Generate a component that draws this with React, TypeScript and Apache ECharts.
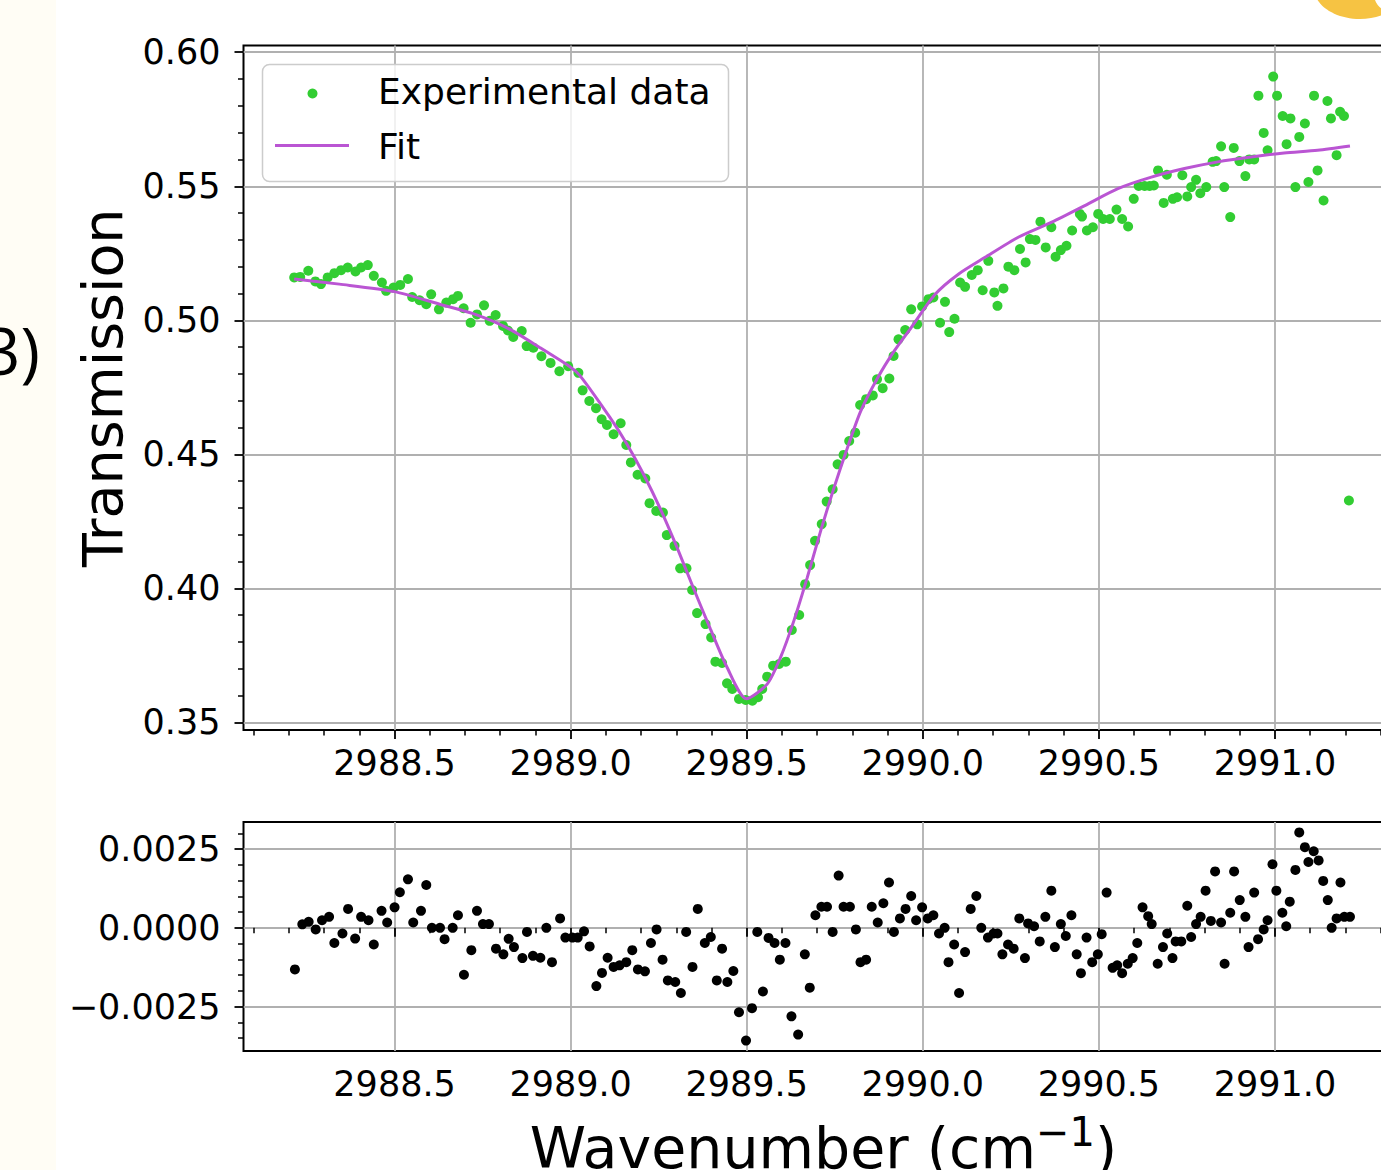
import React, { useEffect, useRef } from "react";
import * as echarts from "echarts";

// ---- axis ticks / labels ----
const xMajorTicks = [2988.5, 2989.0, 2989.5, 2990.0, 2990.5, 2991.0];
const xTickLabels = ["2988.5", "2989.0", "2989.5", "2990.0", "2990.5", "2991.0"];
const xMinorTicks = [2988.1, 2988.2, 2988.3, 2988.4, 2988.6, 2988.7, 2988.8, 2988.9, 2989.1, 2989.2, 2989.3, 2989.4, 2989.6, 2989.7, 2989.8, 2989.9, 2990.1, 2990.2, 2990.3, 2990.4, 2990.6, 2990.7, 2990.8, 2990.9, 2991.1, 2991.2, 2991.3];
const topYTicks = [0.35, 0.4, 0.45, 0.5, 0.55, 0.6];
const topYTickLabels = ["0.35", "0.40", "0.45", "0.50", "0.55", "0.60"];
const topYMinorTicks = [0.36, 0.37, 0.38, 0.39, 0.41, 0.42, 0.43, 0.44, 0.46, 0.47, 0.48, 0.49, 0.51, 0.52, 0.53, 0.54, 0.56, 0.57, 0.58, 0.59];
const resYTicks = [-0.0025, 0, 0.0025];
const resYTickLabels = ["\u22120.0025", "0.0000", "0.0025"];
const resYMinorTicks = [-0.0035, -0.003, -0.002, -0.0015, -0.001, -0.0005, 0.0005, 0.001, 0.0015, 0.002, 0.003];

const X_MIN = 2988.071;
const X_MAX = 2991.365;
const TOP_Y_MIN = 0.3472;
const TOP_Y_MAX = 0.6025;
const RES_Y_MIN = -0.00391;
const RES_Y_MAX = 0.00336;

// ---- experimental transmission data ----
const transX = [
  2988.215, 2988.232, 2988.255, 2988.275, 2988.291, 2988.31, 2988.329, 2988.348, 2988.367, 2988.389,
  2988.405, 2988.424, 2988.441, 2988.464, 2988.476, 2988.497, 2988.516, 2988.538, 2988.55, 2988.571,
  2988.59, 2988.604, 2988.626, 2988.647, 2988.666, 2988.68, 2988.696, 2988.716, 2988.734, 2988.754,
  2988.77, 2988.787, 2988.808, 2988.822, 2988.837, 2988.861, 2988.875, 2988.894, 2988.917, 2988.943,
  2988.968, 2988.993, 2989.022, 2989.034, 2989.053, 2989.072, 2989.088, 2989.103, 2989.122, 2989.142,
  2989.158, 2989.171, 2989.19, 2989.212, 2989.224, 2989.243, 2989.262, 2989.273, 2989.295, 2989.311,
  2989.329, 2989.345, 2989.359, 2989.383, 2989.399, 2989.411, 2989.43, 2989.444, 2989.459, 2989.478,
  2989.497, 2989.516, 2989.532, 2989.544, 2989.558, 2989.575, 2989.592, 2989.611, 2989.628, 2989.649,
  2989.666, 2989.68, 2989.694, 2989.713, 2989.727, 2989.744, 2989.758, 2989.775, 2989.791, 2989.808,
  2989.822, 2989.839, 2989.858, 2989.87, 2989.886, 2989.905, 2989.917, 2989.931, 2989.95, 2989.967,
  2989.984, 2989.998, 2990.016, 2990.03, 2990.049, 2990.063, 2990.075, 2990.09, 2990.106, 2990.12,
  2990.139, 2990.156, 2990.17, 2990.186, 2990.203, 2990.212, 2990.229, 2990.243, 2990.26, 2990.276,
  2990.292, 2990.304, 2990.32, 2990.334, 2990.349, 2990.365, 2990.377, 2990.392, 2990.408, 2990.424,
  2990.446, 2990.452, 2990.466, 2990.483, 2990.498, 2990.512, 2990.531, 2990.55, 2990.566, 2990.583,
  2990.599, 2990.613, 2990.63, 2990.644, 2990.656, 2990.668, 2990.684, 2990.693, 2990.71, 2990.722,
  2990.737, 2990.751, 2990.762, 2990.776, 2990.788, 2990.805, 2990.823, 2990.833, 2990.847, 2990.856,
  2990.873, 2990.883, 2990.899, 2990.916, 2990.927, 2990.941, 2990.953, 2990.968, 2990.979, 2990.995,
  2991.006, 2991.022, 2991.033, 2991.044, 2991.058, 2991.069, 2991.085, 2991.095, 2991.111, 2991.121,
  2991.138, 2991.149, 2991.159, 2991.175, 2991.185, 2991.196, 2991.21,
];
const transY = [
  0.516, 0.5162, 0.5185, 0.5145, 0.5135, 0.516, 0.5176, 0.5187, 0.5197, 0.5182,
  0.5197, 0.5206, 0.5166, 0.5141, 0.511, 0.5122, 0.5132, 0.5154, 0.5087, 0.5075,
  0.506, 0.5097, 0.5041, 0.5066, 0.5079, 0.5091, 0.5045, 0.4991, 0.5022, 0.5056,
  0.4998, 0.502, 0.4979, 0.4962, 0.4938, 0.496, 0.4904, 0.4898, 0.4866, 0.4841,
  0.481, 0.4829, 0.4804, 0.4739, 0.4699, 0.4672, 0.4631, 0.461, 0.4575, 0.4616,
  0.4535, 0.447, 0.4424, 0.441, 0.4318, 0.4289, 0.4283, 0.4199, 0.4159, 0.4075,
  0.4075, 0.3994, 0.3908, 0.3867, 0.3817, 0.3727, 0.3722, 0.3646, 0.3625, 0.3588,
  0.3584, 0.3581, 0.3594, 0.3625, 0.3671, 0.3712, 0.3718, 0.3727, 0.3845, 0.3901,
  0.4016, 0.4087, 0.4178, 0.424, 0.4324, 0.437, 0.4463, 0.4498, 0.455, 0.4581,
  0.4684, 0.4706, 0.472, 0.478, 0.4747, 0.4783, 0.4867, 0.4929, 0.4964, 0.5041,
  0.4985, 0.5052, 0.5079, 0.5085, 0.4991, 0.5069, 0.4956, 0.5006, 0.5141, 0.5125,
  0.5169, 0.5187, 0.5112, 0.5222, 0.5104, 0.5054, 0.5119, 0.52, 0.5187, 0.5266,
  0.5216, 0.5303, 0.53, 0.5368, 0.5272, 0.5347, 0.5237, 0.5262, 0.5278, 0.5335,
  0.5397, 0.5387, 0.5335, 0.5347, 0.5397, 0.5378, 0.5378, 0.5413, 0.5378, 0.535,
  0.5453, 0.5501, 0.5501, 0.5501, 0.5503, 0.5559, 0.5438, 0.5543, 0.5453, 0.5459,
  0.5541, 0.5462, 0.5497, 0.5524, 0.5474, 0.5497, 0.5591, 0.5594, 0.5649, 0.5497,
  0.5385, 0.5643, 0.5594, 0.5538, 0.56, 0.56, 0.5838, 0.5699, 0.5634, 0.5909,
  0.5838, 0.5762, 0.5657, 0.5753, 0.5497, 0.5684, 0.5734, 0.5516, 0.5838, 0.5559,
  0.5447, 0.5818, 0.5753, 0.5616, 0.5778, 0.5762, 0.4328,
];

// ---- fit curve ----
const fitX = [
  2988.215, 2988.343, 2988.5, 2988.628, 2988.723, 2988.818, 2988.913, 2989.0, 2989.027, 2989.112,
  2989.16, 2989.207, 2989.255, 2989.302, 2989.35, 2989.397, 2989.444, 2989.499, 2989.558, 2989.596,
  2989.634, 2989.672, 2989.71, 2989.748, 2989.786, 2989.824, 2989.872, 2989.919, 2989.967, 2990.035,
  2990.101, 2990.177, 2990.271, 2990.366, 2990.46, 2990.554, 2990.649, 2990.743, 2990.838, 2990.932,
  2991.026, 2991.121, 2991.213,
];
const fitY = [
  0.5154, 0.5135, 0.5107, 0.506, 0.5025, 0.4973, 0.4898, 0.4825, 0.4793, 0.4637,
  0.4538, 0.4426, 0.4296, 0.4153, 0.3997, 0.3848, 0.3706, 0.3589, 0.3643, 0.3743,
  0.388, 0.4041, 0.4215, 0.4376, 0.4525, 0.4662, 0.4786, 0.4886, 0.4973, 0.5097,
  0.5172, 0.5235, 0.531, 0.5366, 0.5428, 0.5491, 0.5534, 0.5566, 0.5591, 0.5609,
  0.5624, 0.5634, 0.565,
];

// ---- residuals ----
const resX = [
  2988.217, 2988.238, 2988.256, 2988.276, 2988.294, 2988.314, 2988.329, 2988.352, 2988.368, 2988.388,
  2988.405, 2988.426, 2988.441, 2988.463, 2988.479, 2988.5, 2988.515, 2988.538, 2988.553, 2988.575,
  2988.59, 2988.606, 2988.629, 2988.642, 2988.665, 2988.68, 2988.697, 2988.718, 2988.734, 2988.751,
  2988.768, 2988.788, 2988.809, 2988.824, 2988.839, 2988.863, 2988.876, 2988.893, 2988.914, 2988.931,
  2988.947, 2988.97, 2988.985, 2989.005, 2989.02, 2989.038, 2989.054, 2989.073, 2989.089, 2989.105,
  2989.122, 2989.139, 2989.158, 2989.175, 2989.191, 2989.211, 2989.228, 2989.244, 2989.261, 2989.276,
  2989.297, 2989.313, 2989.328, 2989.346, 2989.361, 2989.381, 2989.398, 2989.415, 2989.43, 2989.445,
  2989.462, 2989.478, 2989.498, 2989.515, 2989.53, 2989.546, 2989.562, 2989.579, 2989.594, 2989.61,
  2989.627, 2989.646, 2989.665, 2989.679, 2989.695, 2989.712, 2989.728, 2989.744, 2989.761, 2989.775,
  2989.793, 2989.81, 2989.823, 2989.839, 2989.855, 2989.872, 2989.888, 2989.904, 2989.918, 2989.935,
  2989.951, 2989.967, 2989.981, 2989.998, 2990.014, 2990.03, 2990.046, 2990.062, 2990.073, 2990.089,
  2990.103, 2990.12, 2990.136, 2990.152, 2990.166, 2990.185, 2990.201, 2990.212, 2990.226, 2990.242,
  2990.258, 2990.274, 2990.29, 2990.299, 2990.316, 2990.332, 2990.348, 2990.365, 2990.375, 2990.392,
  2990.406, 2990.422, 2990.437, 2990.449, 2990.465, 2990.481, 2990.497, 2990.508, 2990.522, 2990.539,
  2990.552, 2990.566, 2990.582, 2990.596, 2990.609, 2990.624, 2990.64, 2990.65, 2990.667, 2990.682,
  2990.694, 2990.709, 2990.718, 2990.734, 2990.751, 2990.762, 2990.776, 2990.789, 2990.803, 2990.818,
  2990.83, 2990.847, 2990.857, 2990.873, 2990.884, 2990.9, 2990.916, 2990.925, 2990.941, 2990.952,
  2990.968, 2990.979, 2990.993, 2991.004, 2991.021, 2991.032, 2991.042, 2991.058, 2991.069, 2991.085,
  2991.095, 2991.11, 2991.124, 2991.137, 2991.15, 2991.161, 2991.175, 2991.186, 2991.197, 2991.213,
];
const resY = [
  -0.00132, 0.00011, 0.00019, -0.00005, 0.00024, 0.00035, -0.00048, -0.00018, 0.0006, -0.00034,
  0.00035, 0.00024, -0.00053, 0.00054, 0.00017, 0.00065, 0.00113, 0.00154, 0.00017, 0.00054,
  0.00136, 0.0, 0.0, -0.00036, 0.0, 0.0004, -0.00149, -0.00071, 0.00054, 0.00012,
  0.00012, -0.00066, -0.00084, -0.00035, -0.00061, -0.00096, -0.00013, -0.00089, -0.00095, 0.0,
  -0.00109, 0.0003, -0.00031, -0.00031, -0.00031, -0.00011, -0.00059, -0.00185, -0.00143, -0.00095,
  -0.00124, -0.00119, -0.00109, -0.00071, -0.00132, -0.00138, -0.00048, -0.00005, -0.00101, -0.00167,
  -0.00172, -0.00207, -0.00013, -0.00124, 0.0006, -0.00048, -0.00029, -0.00167, -0.00066, -0.00172,
  -0.00137, -0.00268, -0.00358, -0.00255, -0.00013, -0.00202, -0.00032, -0.00048, -0.00101, -0.00048,
  -0.00281, -0.00339, -0.00084, -0.0019, 0.0004, 0.00067, 0.00067, -0.00013, 0.00166, 0.00067,
  0.00067, -0.00005, -0.00109, -0.00101, 0.00067, 0.00017, 0.00078, 0.00144, -0.00013, 0.0003,
  0.0006, 0.00101, 0.00024, 0.00065, 0.0003, 0.0004, -0.00018, 0.0, -0.00109, -0.00053,
  -0.00207, -0.00077, 0.0006, 0.00101, 0.0, -0.00031, -0.00018, -0.00018, -0.00084, -0.00053,
  -0.00066, 0.0003, -0.00096, 0.00014, 0.00005, -0.00043, 0.00035, 0.00118, -0.00061, 0.00012,
  -0.00026, 0.0004, -0.00084, -0.00144, -0.00031, -0.00109, -0.00084, -0.0002, 0.00112, -0.00127,
  -0.00119, -0.00144, -0.00114, -0.00096, -0.00048, 0.00065, 0.00037, 0.00012, -0.00114, -0.00061,
  -0.00018, -0.00096, -0.00043, -0.00043, 0.0007, -0.00029, 0.00012, 0.00035, 0.00118, 0.00022,
  0.00179, 0.00017, -0.00114, 0.00048, 0.00179, 0.00088, 0.00035, -0.00061, 0.00112, -0.00036,
  -0.00005, 0.00024, 0.00202, 0.00118, 0.00048, 0.00005, 0.00083, 0.00184, 0.00303, 0.00256,
  0.00209, 0.00243, 0.00214, 0.00149, 0.00088, 0.0, 0.0003, 0.00144, 0.00035, 0.00035,
];

const FONT = "DejaVu Sans";
const GREEN = "#32CD32";
const ORCHID = "#BA55D3";
const GRID_GRAY = "#b0b0b0";

const labelFmt = (ticks: number[], labels: string[]) => (v: number) => {
  const i = ticks.findIndex((t) => Math.abs(t - v) < 1e-9);
  return i >= 0 ? labels[i] : "";
};

function majorX(gridIndex: number, withName: boolean) {
  return {
    type: "value",
    gridIndex,
    position: "bottom",
    min: X_MIN,
    max: X_MAX,
    axisLine: { show: false },
    axisTick: { show: true, customValues: xMajorTicks, length: 9, lineStyle: { color: "#000", width: 1.8 } },
    axisLabel: {
      show: true,
      customValues: xMajorTicks,
      formatter: labelFmt(xMajorTicks, xTickLabels),
      fontFamily: FONT,
      fontSize: 35,
      color: "#000",
      margin: 15,
    },
    splitLine: { show: true, lineStyle: { color: GRID_GRAY, width: 1.8 } },
    name: withName ? "Wavenumber (cm{sup|\u22121})" : "",
    nameLocation: "middle",
    nameGap: 61,
    nameTextStyle: {
      fontFamily: FONT,
      fontSize: 57,
      lineHeight: 71,
      color: "#000",
      rich: {
        sup: { fontFamily: FONT, fontSize: 40, lineHeight: 40, verticalAlign: "top", color: "#000" },
      },
    },
  };
}

function minorX(gridIndex: number) {
  return {
    type: "value",
    gridIndex,
    position: "bottom",
    min: X_MIN,
    max: X_MAX,
    axisLine: { show: false },
    axisTick: { show: true, customValues: xMinorTicks, length: 5.5, lineStyle: { color: "#000", width: 1.5 } },
    axisLabel: { show: false },
    splitLine: { show: false },
  };
}

function majorY(gridIndex: number, min: number, max: number, ticks: number[], labels: string[], name: string) {
  return {
    type: "value",
    gridIndex,
    position: "left",
    min,
    max,
    axisLine: { show: false },
    axisTick: { show: true, customValues: ticks, length: 9, lineStyle: { color: "#000", width: 1.8 } },
    axisLabel: {
      show: true,
      customValues: ticks,
      formatter: labelFmt(ticks, labels),
      fontFamily: FONT,
      fontSize: 35,
      color: "#000",
      margin: 23,
    },
    splitLine: { show: true, lineStyle: { color: GRID_GRAY, width: 1.8 } },
    name,
    nameLocation: "middle",
    nameRotate: 90,
    nameGap: 113,
    nameTextStyle: { fontFamily: FONT, fontSize: 55.5, color: "#000" },
  };
}

function minorY(gridIndex: number, min: number, max: number, ticks: number[]) {
  return {
    type: "value",
    gridIndex,
    position: "left",
    min,
    max,
    axisLine: { show: false },
    axisTick: { show: true, customValues: ticks, length: 5.5, lineStyle: { color: "#000", width: 1.5 } },
    axisLabel: { show: false },
    splitLine: { show: false },
  };
}

export default function App() {
  const ref = useRef<HTMLDivElement>(null);

  useEffect(() => {
    if (!ref.current) return;
    const chart = echarts.init(ref.current, undefined, { renderer: "svg" });

    const transData = transX.map((x, i) => [x, transY[i]]);
    const fitData = fitX.map((x, i) => [x, fitY[i]]);
    const resData = resX.map((x, i) => [x, resY[i]]);

    const option: any = {
      animation: false,
      backgroundColor: "#ffffff",
      grid: [
        { left: 243.5, top: 45.5, width: 1160, height: 684.5, show: true, borderColor: "#000", borderWidth: 2, containLabel: false, outerBoundsMode: "none" },
        { left: 243.5, top: 822, width: 1160, height: 229, show: true, borderColor: "#000", borderWidth: 2, containLabel: false, outerBoundsMode: "none" },
      ],
      xAxis: [majorX(0, false), minorX(0), majorX(1, true), minorX(1)],
      yAxis: [
        majorY(0, TOP_Y_MIN, TOP_Y_MAX, topYTicks, topYTickLabels, "Transmission"),
        minorY(0, TOP_Y_MIN, TOP_Y_MAX, topYMinorTicks),
        majorY(1, RES_Y_MIN, RES_Y_MAX, resYTicks, resYTickLabels, ""),
        minorY(1, RES_Y_MIN, RES_Y_MAX, resYMinorTicks),
      ],
      series: [
        {
          name: "Experimental data",
          type: "scatter",
          xAxisIndex: 0,
          yAxisIndex: 0,
          data: transData,
          symbol: "circle",
          symbolSize: 10,
          itemStyle: { color: GREEN, opacity: 1 },
          z: 2,
        },
        {
          name: "Fit",
          type: "line",
          xAxisIndex: 0,
          yAxisIndex: 0,
          data: fitData,
          showSymbol: false,
          symbol: "none",
          smooth: 0.25,
          lineStyle: { color: ORCHID, width: 3 },
          z: 3,
        },
        {
          name: "Residuals",
          type: "scatter",
          xAxisIndex: 2,
          yAxisIndex: 2,
          data: resData,
          symbol: "circle",
          symbolSize: 10,
          itemStyle: { color: "#000", opacity: 1 },
          z: 2,
        },
      ],
      graphic: [
        { type: "rect", z: -10, shape: { x: 0, y: 0, width: 56, height: 1170 }, style: { fill: "#FFFDF5" } },
        {
          type: "text",
          z: 5,
          style: { text: "3)", x: 40, y: 349, fill: "#000", fontSize: 66, fontFamily: "Open Sans", align: "right", verticalAlign: "middle", textAlign: "right", textVerticalAlign: "middle" },
        },
        { type: "ellipse", z: 5, shape: { cx: 1360, cy: -12, rx: 46, ry: 31 }, style: { fill: "#F6C343" } },
        { type: "circle", z: 6, shape: { cx: 1392, cy: -6, r: 18 }, style: { fill: "#ffffff" } },
        // legend
        {
          type: "rect",
          z: 20,
          shape: { x: 262.5, y: 64.5, width: 466, height: 117, r: 7 },
          style: { fill: "rgba(255,255,255,0.8)", stroke: "#cccccc", lineWidth: 1.5 },
        },
        { type: "circle", z: 21, shape: { cx: 312.5, cy: 93.5, r: 5 }, style: { fill: GREEN } },
        { type: "line", z: 21, shape: { x1: 275, y1: 145.5, x2: 349, y2: 145.5 }, style: { stroke: ORCHID, lineWidth: 3 } },
        {
          type: "text",
          z: 21,
          style: { text: "Experimental data", x: 378, y: 91, fill: "#000", fontSize: 36, fontFamily: FONT, align: "left", verticalAlign: "middle", textAlign: "left", textVerticalAlign: "middle" },
        },
        {
          type: "text",
          z: 21,
          style: { text: "Fit", x: 378, y: 146, fill: "#000", fontSize: 36, fontFamily: FONT, align: "left", verticalAlign: "middle", textAlign: "left", textVerticalAlign: "middle" },
        },
      ],
    };

    chart.setOption(option);
    return () => {
      chart.dispose();
    };
  }, []);

  return (
    <div style={{ position: "fixed", left: 0, top: 0, width: 1381, height: 1170, overflow: "hidden", background: "#fff" }}>
      <div ref={ref} style={{ width: 1420, height: 1170 }} />
    </div>
  );
}
